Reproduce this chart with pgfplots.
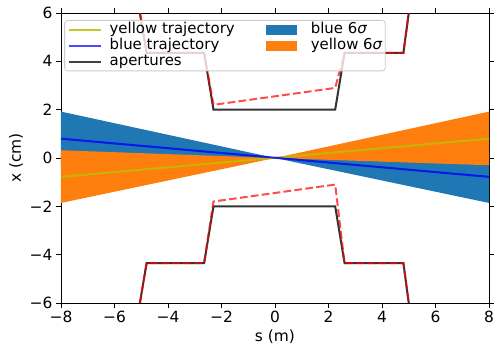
\documentclass[border=0pt]{standalone}
\usepackage{fontspec}
\setmainfont{DejaVu Sans}
\usepackage{pgfplots}
\pgfplotsset{compat=1.18}
\definecolor{tabblue}{RGB}{31,119,180}
\definecolor{taborange}{RGB}{255,127,14}
\definecolor{ycol}{rgb}{0.75,0.75,0}
\begin{document}
\begin{tikzpicture}
\useasboundingbox (-61bp,-42bp) rectangle (434bp,303bp);
\begin{axis}[
  scale only axis, width=428bp, height=290bp,
  xmin=-8, xmax=8, ymin=-6, ymax=6,
  xtick={-8,-6,-4,-2,0,2,4,6,8},
  xticklabels={−8,−6,−4,−2,0,2,4,6,8},
  ytick={-6,-4,-2,0,2,4,6},
  yticklabels={−6,−4,−2,0,2,4,6},
  tick align=outside, major tick length=5bp,
  tick style={black, line width=0.8bp},
  axis line style={line width=0.8bp},
  tick label style={font=\fontsize{15.5}{16}\selectfont},
  label style={font=\fontsize{15.5}{16}\selectfont},
  xlabel={s (m)}, ylabel={x (cm)},
  legend columns=2,
  legend cell align=left,
  legend style={at={(axis description cs:0.0075,0.976)}, anchor=north west,
    draw=black!20, fill=white, fill opacity=0.8, text opacity=1,
    rounded corners=3bp, line width=0.8bp,
    font=\fontsize{15}{15}\selectfont,
    inner xsep=3bp, inner ysep=2bp, row sep=1.5bp,
    nodes={inner xsep=0bp, inner ysep=0bp, text height=11bp, text depth=3.5bp},
    /tikz/every even column/.append style={column sep=31bp}},
]
% bands
\addplot[fill=tabblue, draw=none, forget plot] coordinates {
  (-8,1.92) (0,0.0) (8,0.30) (8,-1.86) (0,0.0) (-8,-0.32)} --cycle;
\addplot[fill=taborange, draw=none, forget plot] coordinates {
  (-8,0.32) (0,0.0) (8,1.92) (8,-0.30) (0,0.0) (-8,-1.86)} --cycle;
% trajectories
\addplot[ycol, opacity=0.85, line width=2bp, forget plot] coordinates {(-8,-0.78) (8,0.80)};
\addplot[blue, opacity=0.8, line width=2bp, forget plot] coordinates {(-8,0.80) (8,-0.78)};
% apertures
\addplot[black, opacity=0.8, line width=2bp, forget plot] coordinates {
  (-5.05,-6) (-4.8,-4.35) (-2.65,-4.35) (-2.3,-2.0) (2.25,-2.0) (2.6,-4.35) (4.8,-4.35) (5.0,-6)};
\addplot[black, opacity=0.8, line width=2bp, forget plot] coordinates {
  (-5.05,6) (-4.8,4.35) (-2.65,4.35) (-2.3,2.0) (2.25,2.0) (2.6,4.35) (4.8,4.35) (5.0,6)};
\addplot[red, opacity=0.7, line width=2bp, dash pattern=on 7.7bp off 3.3bp, forget plot] coordinates {
  (-5.05,-6) (-4.8,-4.35) (-2.65,-4.35) (-2.3,-1.8) (2.25,-1.1) (2.6,-4.35) (4.8,-4.35) (5.0,-6)};
\addplot[red, opacity=0.7, line width=2bp, dash pattern=on 7.7bp off 3.3bp, forget plot] coordinates {
  (-5.05,6) (-4.8,4.35) (-2.65,4.35) (-2.3,2.2) (2.25,2.9) (2.6,4.35) (4.8,4.35) (5.0,6)};
% legend
\addlegendimage{legend image code/.code={\path[draw=none,fill=none] (0bp,0bp) -- (41bp,0bp);\draw[ycol, draw opacity=0.85, line width=2bp, sharp corners] (0bp,0bp) -- (32bp,0bp);}}
\addlegendentry{yellow trajectory}
\addlegendimage{legend image code/.code={\path[draw=none,fill=none] (0bp,0bp) -- (45bp,0bp);\fill[tabblue, fill opacity=1, draw=none, sharp corners] (0bp,-5bp) rectangle (31bp,5bp);}}
\addlegendentry{blue 6{\itshape σ}}
\addlegendimage{legend image code/.code={\path[draw=none,fill=none] (0bp,0bp) -- (41bp,0bp);\draw[blue, draw opacity=0.7, line width=2bp, sharp corners] (0bp,0bp) -- (32bp,0bp);}}
\addlegendentry{blue trajectory}
\addlegendimage{legend image code/.code={\path[draw=none,fill=none] (0bp,0bp) -- (45bp,0bp);\fill[taborange, fill opacity=1, draw=none, sharp corners] (0bp,-5bp) rectangle (31bp,5bp);}}
\addlegendentry{yellow 6{\itshape σ}}
\addlegendimage{legend image code/.code={\path[draw=none,fill=none] (0bp,0bp) -- (41bp,0bp);\draw[black, draw opacity=0.75, line width=2bp, sharp corners] (0bp,0bp) -- (32bp,0bp);}}
\addlegendentry{apertures}
\end{axis}
\end{tikzpicture}
\end{document}
